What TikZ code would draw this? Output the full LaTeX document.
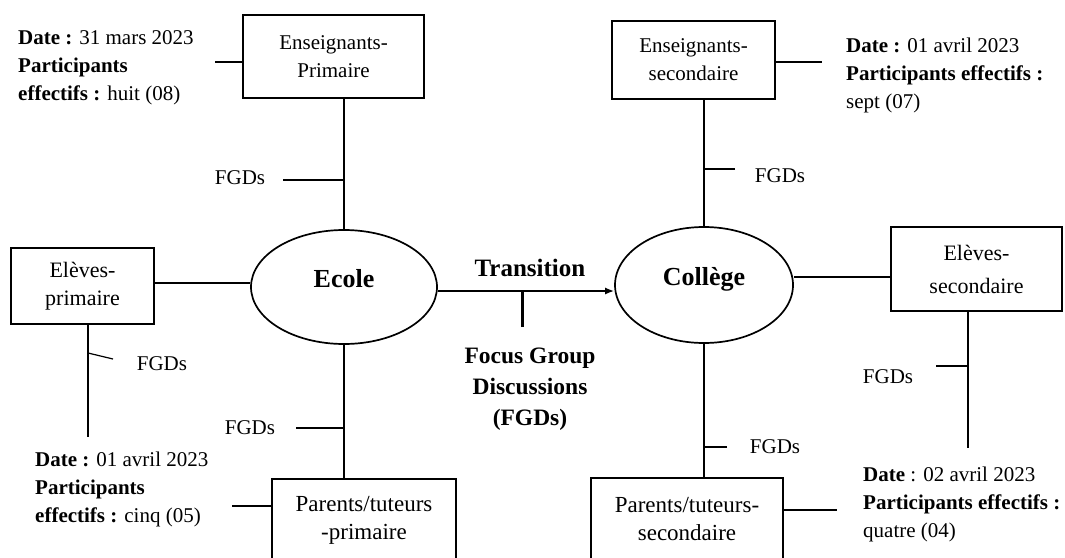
\documentclass[tikz,border=0pt]{standalone}
\usepackage{fontspec}
\setmainfont{Liberation Serif}
\usetikzlibrary{shapes.geometric,arrows.meta}
\tikzset{
  groupbox/.style={draw, line width=1.2pt, align=center, inner sep=0pt, font=\fontsize{21}{28}\selectfont},
  bigbox/.style={groupbox, font=\fontsize{23}{28}\selectfont},
  schoolnode/.style={draw, ellipse, line width=1.7pt, inner sep=0pt, text height=18pt, text depth=18pt, font=\fontsize{26}{30}\selectfont\bfseries},
  infotext/.style={anchor=west, align=left, inner sep=0pt, font=\fontsize{21}{28}\selectfont},
  fgdtext/.style={inner sep=0pt, font=\fontsize{21}{28}\selectfont},
  link/.style={line width=1.2pt}
}
\begin{document}
\begin{tikzpicture}[x=1pt,y=-1pt]
\useasboundingbox (0,0) rectangle (1065,557);
\clip (0,0) rectangle (1065,557);

\node[schoolnode, minimum width=186pt, minimum height=114pt] (ecole) at (344,287) {Ecole};
\node[schoolnode, minimum width=178pt, minimum height=116pt] (college) at (704,285) {Collège};

\node[groupbox, minimum width=181pt, minimum height=83pt] (ensP) at (333.5,56.5) {Enseignants-\\Primaire};
\node[groupbox, font=\fontsize{22}{28}\selectfont, minimum width=143pt, minimum height=76pt] (eleP) at (82.5,286) {Elèves-\\primaire};
\node[bigbox, minimum width=184pt, minimum height=82pt] (parP) at (364,520) {Parents/tuteurs\\-primaire};
\node[groupbox, minimum width=163pt, minimum height=78pt] (ensS) at (693.5,60) {Enseignants-\\secondaire};
\node[groupbox, font=\fontsize{22}{33}\selectfont, minimum width=171pt, minimum height=84pt] (eleS) at (976.5,269) {Elèves-\\secondaire};
\node[bigbox, minimum width=192pt, minimum height=82pt] (parS) at (687,519) {Parents/tuteurs-\\secondaire};

\node[infotext] (infoEP) at (18,68) {\textbf{Date :} 31 mars 2023\\\textbf{Participants}\\\textbf{effectifs :} huit (08)};
\node[infotext] (infoLP) at (35,489) {\textbf{Date :} 01 avril 2023\\\textbf{Participants}\\\textbf{effectifs :} cinq (05)};
\node[infotext] (infoES) at (846,75) {\textbf{Date :} 01 avril 2023\\\textbf{Participants effectifs :}\\sept (07)};
\node[infotext] (infoPS) at (863,504) {\textbf{Date} : 02 avril 2023\\\textbf{Participants effectifs :}\\quatre (04)};

\node[fgdtext] (fgd1) at (240,178) {FGDs};
\node[fgdtext] (fgd2) at (162,364) {FGDs};
\node[fgdtext] (fgd3) at (250,428) {FGDs};
\node[fgdtext] (fgd4) at (780,176) {FGDs};
\node[fgdtext] (fgd5) at (888,377) {FGDs};
\node[fgdtext] (fgd6) at (775,447) {FGDs};

\node[font=\fontsize{25}{30}\selectfont\bfseries, inner sep=0pt] (trans) at (530,268) {Transition};
\node[font=\fontsize{23.5}{31}\selectfont\bfseries, align=center, inner sep=0pt] (focus) at (530,389) {Focus Group\\Discussions\\(FGDs)};

\coordinate (c1) at (215,62);
\coordinate (c2) at (822,62);
\coordinate (c3) at (232,506);
\coordinate (c4) at (837,510);
\coordinate (e1) at (88,437);
\coordinate (e2) at (968,448);
\coordinate (t1) at (283,180);
\coordinate (t2a) at (88,353);
\coordinate (t2) at (113,359);
\coordinate (t3) at (296,428);
\coordinate (t4) at (735,169);
\coordinate (t5) at (936,366);
\coordinate (t6) at (727,447);
\coordinate (tr) at (522,327);

\draw[link] (ecole.north |- ensP.south) -- (ecole.north);
\draw[link] (c1) -- (c1 -| ensP.west);
\draw[link] (t1) -- (t1 -| ecole.north);
\draw[link] ([yshift=3pt]eleP.east) -- ([yshift=3pt]eleP.east -| ecole.west);
\draw[link] (e1 |- eleP.south) -- (e1);
\draw[link] (t2a) -- (t2);
\draw[link] (ecole.south) -- (ecole.south |- parP.north);
\draw[link] (t3) -- (t3 -| ecole.south);
\draw[link] (c3) -- (c3 -| parP.west);

\draw[line width=1.6pt, -{Latex[length=9pt,width=7pt]}] ([yshift=-4pt]ecole.east) -- ([yshift=-4pt]ecole.east -| college.west);
\draw[line width=3pt] (tr) -- ([yshift=-4pt]tr |- ecole.east);

\draw[link] (college.north) -- (college.north |- ensS.south);
\draw[link] (t4) -- (t4 -| college.north);
\draw[link] (c2 -| ensS.east) -- (c2);
\draw[link] ([yshift=8pt]college.east) -- ([yshift=8pt]college.east -| eleS.west);
\draw[link] (e2 |- eleS.south) -- (e2);
\draw[link] (t5) -- (t5 -| e2);
\draw[link] (college.south) -- (college.south |- parS.north);
\draw[link] (t6) -- (t6 -| college.south);
\draw[link] (c4 -| parS.east) -- (c4);
\end{tikzpicture}
\end{document}
